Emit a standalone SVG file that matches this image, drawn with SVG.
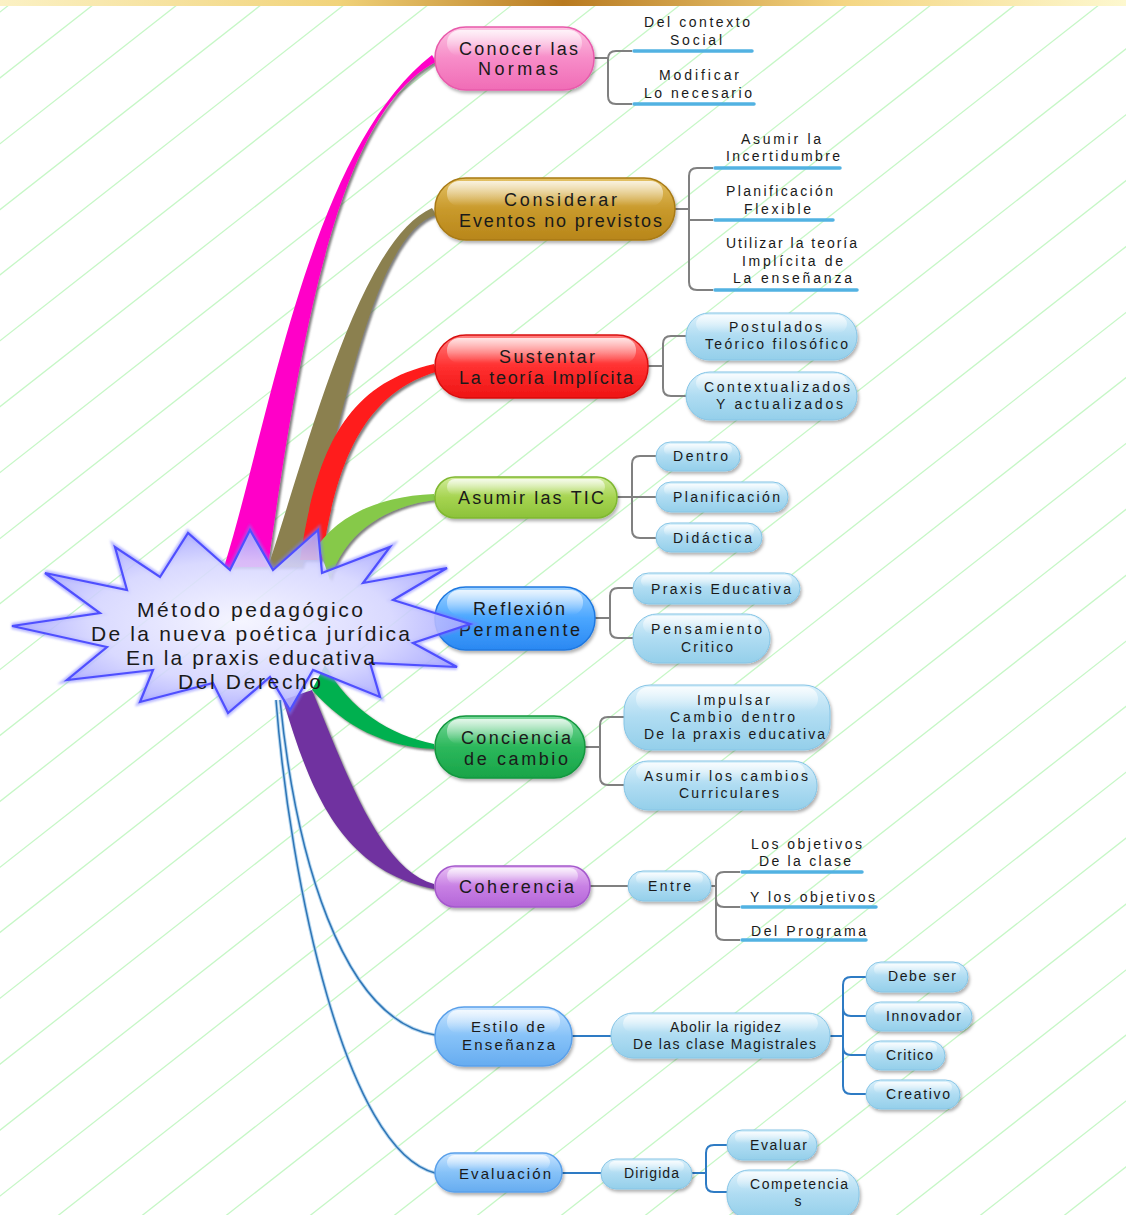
<svg xmlns="http://www.w3.org/2000/svg" width="1126" height="1215" viewBox="0 0 1126 1215">
<defs>
<style>
.t{font-family:"Liberation Sans",Arial,sans-serif;fill:#1a1a1a;text-anchor:middle}
.m{font-size:18px}
.e{font-size:15px}
.s{font-size:14px}
.c{font-size:21px}
.bg{stroke:#c6f7c6;stroke-width:1.3}
.br{fill:none;stroke:#808080;stroke-width:2}
.bb{fill:none;stroke:#2e7bc4;stroke-width:2}
.u{stroke:#52b2e2;stroke-width:3.5;stroke-linecap:round}
.hl{fill:url(#hl)}
</style>
<linearGradient id="band" x1="0" y1="0" x2="1" y2="0">
<stop offset="0" stop-color="#fbf1c4"/><stop offset="0.3" stop-color="#f1d37a"/><stop offset="0.5" stop-color="#b87a20"/><stop offset="0.75" stop-color="#f4d683"/><stop offset="1" stop-color="#fdf8cf"/>
</linearGradient>
<linearGradient id="hl" x1="0" y1="0" x2="0" y2="1"><stop offset="0" stop-color="#fff" stop-opacity="0.8"/><stop offset="1" stop-color="#fff" stop-opacity="0"/></linearGradient>
<linearGradient id="gPink" x1="0" y1="0" x2="0" y2="1"><stop offset="0" stop-color="#fcc4e2"/><stop offset="0.5" stop-color="#f78cc8"/><stop offset="1" stop-color="#f06cb6"/></linearGradient>
<linearGradient id="gGold" x1="0" y1="0" x2="0" y2="1"><stop offset="0" stop-color="#e4c266"/><stop offset="0.5" stop-color="#c99a2c"/><stop offset="1" stop-color="#b8861a"/></linearGradient>
<linearGradient id="gRed" x1="0" y1="0" x2="0" y2="1"><stop offset="0" stop-color="#ff8080"/><stop offset="0.5" stop-color="#ff3030"/><stop offset="1" stop-color="#ee1414"/></linearGradient>
<linearGradient id="gLime" x1="0" y1="0" x2="0" y2="1"><stop offset="0" stop-color="#d2ec9c"/><stop offset="0.5" stop-color="#a6d450"/><stop offset="1" stop-color="#8cc23a"/></linearGradient>
<linearGradient id="gBlue" x1="0" y1="0" x2="0" y2="1"><stop offset="0" stop-color="#9fd2ff"/><stop offset="0.5" stop-color="#4aa6ff"/><stop offset="1" stop-color="#2a88f2"/></linearGradient>
<linearGradient id="gGreen" x1="0" y1="0" x2="0" y2="1"><stop offset="0" stop-color="#7ad89a"/><stop offset="0.5" stop-color="#2cb85c"/><stop offset="1" stop-color="#18a448"/></linearGradient>
<linearGradient id="gViolet" x1="0" y1="0" x2="0" y2="1"><stop offset="0" stop-color="#e8c0f4"/><stop offset="0.5" stop-color="#c880e4"/><stop offset="1" stop-color="#b466d8"/></linearGradient>
<linearGradient id="gLBlue" x1="0" y1="0" x2="0" y2="1"><stop offset="0" stop-color="#c8e4ff"/><stop offset="0.5" stop-color="#86c2f8"/><stop offset="1" stop-color="#66acf0"/></linearGradient>
<linearGradient id="gCyan" x1="0" y1="0" x2="0" y2="1"><stop offset="0" stop-color="#dcf1fb"/><stop offset="0.5" stop-color="#afdcf2"/><stop offset="1" stop-color="#94cfea"/></linearGradient>
<radialGradient id="gStar" cx="0.5" cy="0.5" r="0.55"><stop offset="0" stop-color="#f4f4ff"/><stop offset="0.6" stop-color="#d4d4ff"/><stop offset="1" stop-color="#9a9aff"/></radialGradient>
<filter id="sh" x="-10%" y="-20%" width="125%" height="150%"><feDropShadow dx="1.5" dy="2.5" stdDeviation="1.5" flood-color="#000" flood-opacity="0.3"/></filter>
<filter id="rsh" x="-10%" y="-10%" width="130%" height="130%"><feDropShadow dx="2" dy="2" stdDeviation="0.8" flood-color="#555" flood-opacity="0.75"/></filter>
<filter id="glow" x="-10%" y="-10%" width="120%" height="120%"><feGaussianBlur in="SourceGraphic" stdDeviation="1.2"/></filter>
</defs>

<rect width="1126" height="1215" fill="#ffffff"/>
<g id="background">
<line class="bg" x1="-1546" y1="1225" x2="28" y2="-10"/>
<line class="bg" x1="-1462" y1="1225" x2="112" y2="-10"/>
<line class="bg" x1="-1378" y1="1225" x2="196" y2="-10"/>
<line class="bg" x1="-1294" y1="1225" x2="280" y2="-10"/>
<line class="bg" x1="-1211" y1="1225" x2="363" y2="-10"/>
<line class="bg" x1="-1127" y1="1225" x2="447" y2="-10"/>
<line class="bg" x1="-1043" y1="1225" x2="531" y2="-10"/>
<line class="bg" x1="-959" y1="1225" x2="615" y2="-10"/>
<line class="bg" x1="-875" y1="1225" x2="699" y2="-10"/>
<line class="bg" x1="-792" y1="1225" x2="782" y2="-10"/>
<line class="bg" x1="-708" y1="1225" x2="866" y2="-10"/>
<line class="bg" x1="-624" y1="1225" x2="950" y2="-10"/>
<line class="bg" x1="-540" y1="1225" x2="1034" y2="-10"/>
<line class="bg" x1="-456" y1="1225" x2="1118" y2="-10"/>
<line class="bg" x1="-373" y1="1225" x2="1201" y2="-10"/>
<line class="bg" x1="-289" y1="1225" x2="1285" y2="-10"/>
<line class="bg" x1="-205" y1="1225" x2="1369" y2="-10"/>
<line class="bg" x1="-121" y1="1225" x2="1453" y2="-10"/>
<line class="bg" x1="-37" y1="1225" x2="1537" y2="-10"/>
<line class="bg" x1="46" y1="1225" x2="1620" y2="-10"/>
<line class="bg" x1="130" y1="1225" x2="1704" y2="-10"/>
<line class="bg" x1="214" y1="1225" x2="1788" y2="-10"/>
<line class="bg" x1="298" y1="1225" x2="1872" y2="-10"/>
<line class="bg" x1="382" y1="1225" x2="1956" y2="-10"/>
<line class="bg" x1="465" y1="1225" x2="2039" y2="-10"/>
<line class="bg" x1="549" y1="1225" x2="2123" y2="-10"/>
<line class="bg" x1="633" y1="1225" x2="2207" y2="-10"/>
<line class="bg" x1="717" y1="1225" x2="2291" y2="-10"/>
<line class="bg" x1="801" y1="1225" x2="2375" y2="-10"/>
<line class="bg" x1="884" y1="1225" x2="2458" y2="-10"/>
<line class="bg" x1="968" y1="1225" x2="2542" y2="-10"/>
<line class="bg" x1="1052" y1="1225" x2="2626" y2="-10"/>
</g>
<rect x="0" y="0" width="1126" height="6" fill="url(#band)"/>

<g id="connectors">
<g filter="url(#rsh)">
<path d="M224,567 C270,420 310,150 432,55 L436,62 C345,110 305,300 268,567 Z" fill="#ff00c8"/>
<path d="M268,567 C310,440 360,240 432,208 L436,215 C370,235 340,440 302,567 Z" fill="#8b8050"/>
<path d="M300,560 C315,460 340,385 434,364 L436,372 C360,395 335,470 322,560 Z" fill="#ff1a1a"/>
<path d="M318,545 C340,515 380,496 434,494 L436,500 C390,505 345,530 330,580 Z" fill="#86c94a"/>
<path d="M325,665 C350,710 390,735 434,744 L434,749 C385,747 345,727 312,690 Z" fill="#00b050"/>
<path d="M283,700 C310,790 340,870 434,889 L434,884 C380,870 345,770 312,690 Z" fill="#7030a0"/>
</g>
<path d="M280,700 C295,850 340,1020 435,1035" fill="none" stroke="#b8d8f0" stroke-width="3.5"/>
<path d="M280,700 C295,850 340,1020 435,1035" fill="none" stroke="#2e75b6" stroke-width="1.5"/>
<path d="M276,700 C290,880 345,1150 435,1173" fill="none" stroke="#b8d8f0" stroke-width="3.5"/>
<path d="M276,700 C290,880 345,1150 435,1173" fill="none" stroke="#2e75b6" stroke-width="1.5"/>
<!-- brackets -->
<path class="br" d="M594,58 H608 M632,51 H616 Q608,51 608,59 V96 Q608,104 616,104 H632"/>
<path class="br" d="M675,209 H689 M713,168 H697 Q689,168 689,176 V282 Q689,290 697,290 H713 M689,220 H713"/>
<path class="br" d="M648,366 H663 M686,336 H671 Q663,336 663,344 V388 Q663,396 671,396 H686"/>
<path class="br" d="M617,497 H656 M656,456 H640 Q632,456 632,464 V530 Q632,538 640,538 H656"/>
<path class="br" d="M595,618 H610 M633,588 H618 Q610,588 610,596 V630 Q610,638 618,638 H633"/>
<path class="br" d="M585,747 H600 M624,717 H608 Q600,717 600,725 V777 Q600,785 608,785 H624"/>
<path class="br" d="M590,886 H628"/>
<path class="br" d="M711,886 H716 M740,872 H724 Q716,872 716,880 V932 Q716,940 724,940 H740 M716,899 Q716,907 724,907 H740"/>
<path class="bb" d="M572,1036 H611"/>
<path class="bb" d="M830,1036 H843 M866,977 H851 Q843,977 843,985 V1086 Q843,1094 851,1094 H866 M843,1008 Q843,1016 851,1016 H866 M843,1047 Q843,1055 851,1055 H866"/>
<path class="bb" d="M562,1173 H601"/>
<path class="bb" d="M692,1173 H706 M727,1145 H714 Q706,1145 706,1153 V1184 Q706,1192 714,1192 H727"/>
</g>

<g id="n-conocer">
<rect x="435" y="27" width="159" height="63" rx="31" fill="url(#gPink)" stroke="#e85aab" stroke-width="1.5" filter="url(#sh)"/>
<rect class="hl" x="447" y="30" width="135" height="26" rx="13"/>
<text class="t m" x="518.5" y="54.5" textLength="119">Conocer las</text>
<text class="t m" x="518" y="74.5" textLength="80">Normas</text>
</g>
<g id="n-conocer-1"><text class="t s" x="697" y="27" textLength="106">Del contexto</text><text class="t s" x="696" y="45" textLength="52">Social</text><line class="u" x1="634" y1="51" x2="752" y2="51"/></g>
<g id="n-conocer-2"><text class="t s" x="699" y="80" textLength="80">Modificar</text><text class="t s" x="698" y="98" textLength="108">Lo necesario</text><line class="u" x1="634" y1="104" x2="754" y2="104"/></g>

<g id="n-considerar">
<rect x="435" y="178" width="240" height="62" rx="31" fill="url(#gGold)" stroke="#a87a14" stroke-width="1.5" filter="url(#sh)"/>
<rect class="hl" x="447" y="181" width="216" height="25" rx="12"/>
<text class="t m" x="560.5" y="205.5" textLength="113">Considerar</text>
<text class="t m" x="560.5" y="226.5" textLength="203">Eventos no previstos</text>
</g>
<g id="n-considerar-1"><text class="t s" x="781" y="144" textLength="80">Asumir la</text><text class="t s" x="783" y="161" textLength="114">Incertidumbre</text><line class="u" x1="715" y1="168" x2="840" y2="168"/></g>
<g id="n-considerar-2"><text class="t s" x="779.5" y="196" textLength="107">Planificación</text><text class="t s" x="777.5" y="214" textLength="67">Flexible</text><line class="u" x1="715" y1="220" x2="833" y2="220"/></g>
<g id="n-considerar-3"><text class="t s" x="791.5" y="248" textLength="131">Utilizar la teoría</text><text class="t s" x="792.5" y="266" textLength="101">Implícita de</text><text class="t s" x="792.5" y="283" textLength="119">La enseñanza</text><line class="u" x1="715" y1="290" x2="857" y2="290"/></g>

<g id="n-sustentar">
<rect x="435" y="335" width="213" height="63" rx="31" fill="url(#gRed)" stroke="#d81010" stroke-width="1.5" filter="url(#sh)"/>
<rect class="hl" x="447" y="338" width="189" height="25" rx="12"/>
<text class="t m" x="547" y="362.5" textLength="96">Sustentar</text>
<text class="t m" x="546" y="383.5" textLength="174">La teoría Implícita</text>
</g>
<g id="n-sustentar-1"><rect x="686" y="313" width="171" height="47" rx="23" fill="url(#gCyan)" stroke="#86c5e6" filter="url(#sh)"/><rect class="hl" x="696" y="315" width="151" height="18" rx="9"/><text class="t s" x="775.5" y="332" textLength="93">Postulados</text><text class="t s" x="776.5" y="349" textLength="143">Teórico filosófico</text></g>
<g id="n-sustentar-2"><rect x="686" y="372" width="171" height="48" rx="24" fill="url(#gCyan)" stroke="#86c5e6" filter="url(#sh)"/><rect class="hl" x="696" y="374" width="151" height="18" rx="9"/><text class="t s" x="777" y="392" textLength="146">Contextualizados</text><text class="t s" x="779.5" y="409" textLength="127">Y actualizados</text></g>

<g id="n-tic">
<rect x="435" y="477" width="182" height="41" rx="20" fill="url(#gLime)" stroke="#7fb830" stroke-width="1.5" filter="url(#sh)"/>
<rect class="hl" x="447" y="479" width="158" height="16" rx="8"/>
<text class="t m" x="531" y="503.5" textLength="146">Asumir las TIC</text>
</g>
<g id="n-tic-1"><rect x="656" y="442" width="84" height="29" rx="14.5" fill="url(#gCyan)" stroke="#86c5e6" filter="url(#sh)"/><rect class="hl" x="664" y="444" width="68" height="11" rx="5.5"/><text class="t s" x="700.5" y="461" textLength="55">Dentro</text></g>
<g id="n-tic-2"><rect x="656" y="482" width="132" height="30" rx="15" fill="url(#gCyan)" stroke="#86c5e6" filter="url(#sh)"/><rect class="hl" x="664" y="484" width="116" height="11" rx="5.5"/><text class="t s" x="726.5" y="502" textLength="107">Planificación</text></g>
<g id="n-tic-3"><rect x="656" y="523" width="106" height="29" rx="14.5" fill="url(#gCyan)" stroke="#86c5e6" filter="url(#sh)"/><rect class="hl" x="664" y="525" width="90" height="11" rx="5.5"/><text class="t s" x="712.5" y="543" textLength="79">Didáctica</text></g>

<g id="n-reflexion">
<rect x="435" y="587" width="160" height="63" rx="31" fill="url(#gBlue)" stroke="#1f78e0" stroke-width="1.5" filter="url(#sh)"/>
<rect class="hl" x="447" y="590" width="136" height="25" rx="12"/>
<text class="t m" x="519" y="614.5" textLength="92">Reflexión</text>
<text class="t m" x="519.5" y="635.5" textLength="121">Permanente</text>
</g>
<g id="n-reflexion-1"><rect x="633" y="573" width="167" height="31" rx="15.5" fill="url(#gCyan)" stroke="#86c5e6" filter="url(#sh)"/><rect class="hl" x="641" y="575" width="151" height="12" rx="6"/><text class="t s" x="721" y="594" textLength="140">Praxis Educativa</text></g>
<g id="n-reflexion-2"><rect x="633" y="614" width="137" height="49" rx="24" fill="url(#gCyan)" stroke="#86c5e6" filter="url(#sh)"/><rect class="hl" x="643" y="616" width="117" height="18" rx="9"/><text class="t s" x="706.5" y="634" textLength="111">Pensamiento</text><text class="t s" x="707" y="652" textLength="52">Critico</text></g>

<g id="n-conciencia">
<rect x="435" y="716" width="150" height="62" rx="31" fill="url(#gGreen)" stroke="#12963e" stroke-width="1.5" filter="url(#sh)"/>
<rect class="hl" x="447" y="719" width="126" height="25" rx="12"/>
<text class="t m" x="516" y="743.5" textLength="110">Conciencia</text>
<text class="t m" x="516" y="764.5" textLength="104">de cambio</text>
</g>
<g id="n-conciencia-1"><rect x="624" y="685" width="206" height="65" rx="26" fill="url(#gCyan)" stroke="#86c5e6" filter="url(#sh)"/><rect class="hl" x="636" y="687" width="182" height="24" rx="12"/><text class="t s" x="733.5" y="705" textLength="73">Impulsar</text><text class="t s" x="732.5" y="722" textLength="125">Cambio dentro</text><text class="t s" x="734.5" y="739" textLength="181">De la praxis educativa</text></g>
<g id="n-conciencia-2"><rect x="624" y="761" width="193" height="49" rx="24" fill="url(#gCyan)" stroke="#86c5e6" filter="url(#sh)"/><rect class="hl" x="636" y="763" width="169" height="18" rx="9"/><text class="t s" x="726" y="781" textLength="164">Asumir los cambios</text><text class="t s" x="729" y="798" textLength="100">Curriculares</text></g>

<g id="n-coherencia">
<rect x="435" y="866" width="155" height="41" rx="20" fill="url(#gViolet)" stroke="#a458cc" stroke-width="1.5" filter="url(#sh)"/>
<rect class="hl" x="447" y="868" width="131" height="16" rx="8"/>
<text class="t m" x="516.5" y="892.5" textLength="115">Coherencia</text>
</g>
<g id="n-entre"><rect x="628" y="871" width="83" height="30" rx="15" fill="url(#gCyan)" stroke="#86c5e6" filter="url(#sh)"/><rect class="hl" x="636" y="873" width="67" height="11" rx="5.5"/><text class="t s" x="669.5" y="891" textLength="43">Entre</text></g>
<g id="n-entre-1"><text class="t s" x="806.5" y="849" textLength="111">Los objetivos</text><text class="t s" x="805" y="866" textLength="92">De la clase</text><line class="u" x1="742" y1="872" x2="862" y2="872"/></g>
<g id="n-entre-2"><text class="t s" x="812.5" y="902" textLength="125">Y los objetivos</text><line class="u" x1="742" y1="907" x2="876" y2="907"/></g>
<g id="n-entre-3"><text class="t s" x="808.5" y="936" textLength="115">Del Programa</text><line class="u" x1="742" y1="940" x2="866" y2="940"/></g>

<g id="n-estilo">
<rect x="435" y="1007" width="137" height="59" rx="29" fill="url(#gLBlue)" stroke="#5aa0ea" stroke-width="1.5" filter="url(#sh)"/>
<rect class="hl" x="447" y="1010" width="113" height="23" rx="11"/>
<text class="t e" x="508" y="1031.5" textLength="74">Estilo de</text>
<text class="t e" x="508.5" y="1049.5" textLength="93">Enseñanza</text>
</g>
<g id="n-abolir"><rect x="611" y="1013" width="219" height="45" rx="22" fill="url(#gCyan)" stroke="#86c5e6" filter="url(#sh)"/><rect class="hl" x="623" y="1015" width="195" height="17" rx="8.5"/><text class="t s" x="725.5" y="1032" textLength="111">Abolir la rigidez</text><text class="t s" x="724.5" y="1049" textLength="183">De las clase Magistrales</text></g>
<g id="n-abolir-1"><rect x="866" y="962" width="102" height="30" rx="15" fill="url(#gCyan)" stroke="#86c5e6" filter="url(#sh)"/><rect class="hl" x="874" y="964" width="86" height="11" rx="5.5"/><text class="t s" x="922" y="981" textLength="68">Debe ser</text></g>
<g id="n-abolir-2"><rect x="866" y="1002" width="106" height="29" rx="14.5" fill="url(#gCyan)" stroke="#86c5e6" filter="url(#sh)"/><rect class="hl" x="874" y="1004" width="90" height="11" rx="5.5"/><text class="t s" x="923.5" y="1021" textLength="75">Innovador</text></g>
<g id="n-abolir-3"><rect x="866" y="1041" width="79" height="29" rx="14.5" fill="url(#gCyan)" stroke="#86c5e6" filter="url(#sh)"/><rect class="hl" x="874" y="1043" width="63" height="11" rx="5.5"/><text class="t s" x="909.5" y="1060" textLength="47">Critico</text></g>
<g id="n-abolir-4"><rect x="866" y="1080" width="94" height="29" rx="14.5" fill="url(#gCyan)" stroke="#86c5e6" filter="url(#sh)"/><rect class="hl" x="874" y="1082" width="78" height="11" rx="5.5"/><text class="t s" x="918" y="1099" textLength="64">Creativo</text></g>

<g id="n-evaluacion">
<rect x="435" y="1153" width="127" height="39" rx="19.5" fill="url(#gLBlue)" stroke="#5aa0ea" stroke-width="1.5" filter="url(#sh)"/>
<rect class="hl" x="447" y="1155" width="103" height="15" rx="7.5"/>
<text class="t e" x="505" y="1178.5" textLength="92">Evaluación</text>
</g>
<g id="n-dirigida"><rect x="601" y="1159" width="91" height="30" rx="15" fill="url(#gCyan)" stroke="#86c5e6" filter="url(#sh)"/><rect class="hl" x="609" y="1161" width="75" height="11" rx="5.5"/><text class="t s" x="651.5" y="1178" textLength="55">Dirigida</text></g>
<g id="n-dirigida-1"><rect x="727" y="1130" width="90" height="30" rx="15" fill="url(#gCyan)" stroke="#86c5e6" filter="url(#sh)"/><rect class="hl" x="735" y="1132" width="74" height="11" rx="5.5"/><text class="t s" x="778.5" y="1150" textLength="57">Evaluar</text></g>
<g id="n-dirigida-2"><rect x="727" y="1170" width="132" height="48" rx="22" fill="url(#gCyan)" stroke="#86c5e6" filter="url(#sh)"/><rect class="hl" x="737" y="1172" width="112" height="17" rx="8.5"/><text class="t s" x="799" y="1189" textLength="98">Competencia</text><text class="t s" x="798" y="1206">s</text></g>

<g id="n-center">
<polygon points="12,626 100,613 45,573 127,590 115,547 160,577 188,533 230,570 250,530 273,570 318,530 322,573 390,547 363,583 447,568 393,600 470,624 413,643 457,667 370,663 380,697 313,670 290,710 270,677 228,713 213,683 140,702 153,670 67,680 107,647" fill="none" stroke="#7a7aff" stroke-width="6" stroke-opacity="0.5" stroke-linejoin="miter" filter="url(#glow)"/>
<polygon points="12,626 100,613 45,573 127,590 115,547 160,577 188,533 230,570 250,530 273,570 318,530 322,573 390,547 363,583 447,568 393,600 470,624 413,643 457,667 370,663 380,697 313,670 290,710 270,677 228,713 213,683 140,702 153,670 67,680 107,647" fill="url(#gStar)" fill-opacity="0.88" stroke="#4f4fff" stroke-width="2.2" stroke-linejoin="miter"/>
<text class="t c" x="250" y="616.5" textLength="226">Método pedagógico</text>
<text class="t c" x="250.5" y="640.5" textLength="319">De la nueva poética jurídica</text>
<text class="t c" x="250.5" y="664.5" textLength="249">En la praxis educativa</text>
<text class="t c" x="249.5" y="688.5" textLength="143">Del Derecho</text>
</g>
</svg>
